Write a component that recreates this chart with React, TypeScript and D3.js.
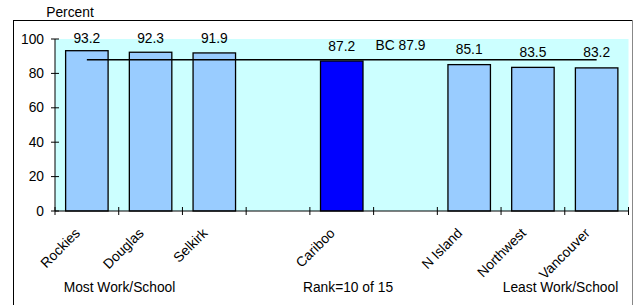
import React from "react";
import * as d3 from "d3";

const categories = ["Rockies", "Douglas", "Selkirk", "", "Cariboo", "", "N Island", "Northwest", "Vancouver"];
const values: (number | null)[] = [93.2, 92.3, 91.9, null, 87.2, null, 85.1, 83.5, 83.2];
const highlight = "Cariboo";
const bcValue = 87.9;
const bcLabel = "BC 87.9";
const yTicks = [0, 20, 40, 60, 80, 100];
const bottomLabels = ["Most Work/School", "Rank=10 of 15", "Least Work/School"];
const yTitle = "Percent";

const W = 635, H = 305;
const plot = { left: 55, right: 628.5, top: 39, bottom: 211 };
const FONT = "'Liberation Sans', Arial, sans-serif";
const FS = 13.8;

export default function App() {
  const idx = categories.map((_, i) => String(i));
  const x = d3.scaleBand<string>().domain(idx).range([plot.left, plot.right]).paddingInner(1 / 3).paddingOuter(1 / 6);
  const y = d3.scaleLinear().domain([0, 100]).range([plot.bottom, plot.top]);
  const step = x.step();
  const bw = x.bandwidth();
  const center = (i: number) => (x(String(i)) as number) + bw / 2;
  const firstIdx = 0;
  const lastIdx = categories.length - 1;

  return (
    <svg width={W} height={H} style={{ position: "absolute", left: 0, top: 0, background: "#fff" }} fontFamily={FONT} fontSize={FS}>
      {/* outer frame */}
      <line x1={13.5} y1={20.5} x2={633} y2={20.5} stroke="#000" strokeWidth={1} />
      <line x1={13.5} y1={20} x2={13.5} y2={305} stroke="#000" strokeWidth={1} />
      <line x1={632.5} y1={20} x2={632.5} y2={305} stroke="#888" strokeWidth={1} />

      <text x={70} y={17} textAnchor="middle">{yTitle}</text>

      {/* plot area */}
      <rect x={plot.left} y={plot.top} width={plot.right - plot.left} height={plot.bottom - plot.top} fill="#CCFFFF" />

      {/* bars */}
      {values.map((v, i) =>
        v == null ? null : (
          <rect key={i} x={x(String(i))} y={y(v)} width={bw} height={y(0) - y(v)}
            fill={categories[i] === highlight ? "#0000FF" : "#99CCFF"} stroke="#000" strokeWidth={1.3} />
        )
      )}

      {/* value labels */}
      {values.map((v, i) =>
        v == null ? null : (
          <text key={i} x={center(i)} y={Math.max(y(v) - 10.5, 42.7)} textAnchor="middle">{v.toFixed(1)}</text>
        )
      )}

      {/* BC line */}
      <line x1={center(firstIdx)} x2={center(lastIdx)} y1={y(bcValue)} y2={y(bcValue)} stroke="#000" strokeWidth={1.5} />
      <text x={center(5) - 5} y={50} textAnchor="middle">{bcLabel}</text>

      {/* y axis */}
      <line x1={plot.left} x2={plot.left} y1={plot.top} y2={plot.bottom} stroke="#000" strokeWidth={1} />
      {yTicks.map((t) => (
        <g key={t}>
          <line x1={plot.left - 4} x2={plot.left + 4} y1={y(t)} y2={y(t)} stroke="#000" />
          <text x={44} y={y(t) + 4.5} textAnchor="end">{t}</text>
        </g>
      ))}

      {/* x axis */}
      <line x1={plot.left} x2={plot.right} y1={plot.bottom} y2={plot.bottom} stroke="#000" strokeWidth={1} />
      {d3.range(categories.length + 1).map((k) => {
        const xx = plot.left + k * step;
        return <line key={k} x1={xx} x2={xx} y1={plot.bottom - 4} y2={plot.bottom + 4} stroke="#000" />;
      })}
      {categories.map((c, i) =>
        c === "" ? null : (
          <text key={i} transform={`translate(${center(i) - 6},${234}) rotate(-45)`} textAnchor="end">{c}</text>
        )
      )}

      {/* bottom annotations */}
      <text x={119.5} y={292} textAnchor="middle">{bottomLabels[0]}</text>
      <text x={348} y={292} textAnchor="middle">{bottomLabels[1]}</text>
      <text x={560.5} y={292} textAnchor="middle">{bottomLabels[2]}</text>
    </svg>
  );
}
